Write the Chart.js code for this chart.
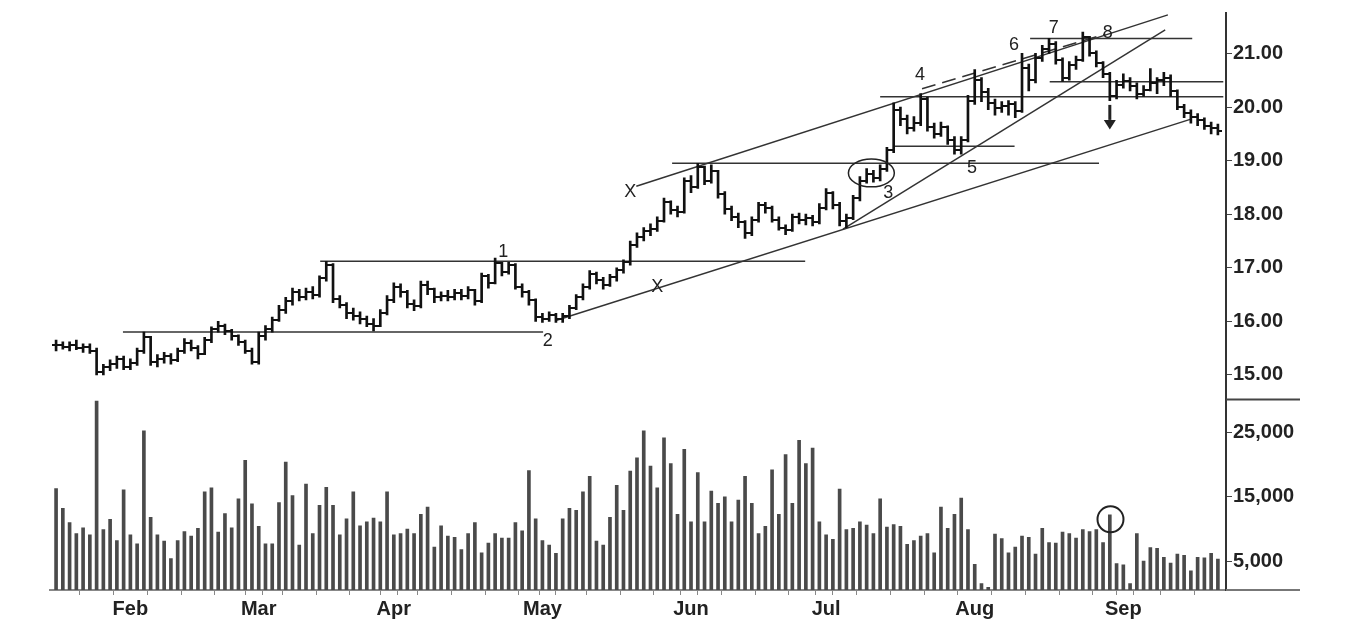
<!DOCTYPE html>
<html>
<head>
<meta charset="utf-8">
<script src="https://cdn.jsdelivr.net/npm/chart.js@4.4.1/dist/chart.umd.min.js"></script>
<style>html,body{margin:0;padding:0;background:#fff}</style>
</head>
<body>
<canvas id="chart" width="1348" height="626"></canvas>
<script>
// daily bars, mid-Jan to mid-Sep (index 0..172)
const openP = [15.55,15.55,15.52,15.55,15.50,15.52,15.45,15.05,15.15,15.20,15.30,15.15,15.22,15.45,15.70,15.25,15.30,15.35,15.28,15.45,
  15.60,15.50,15.40,15.65,15.85,15.92,15.82,15.72,15.62,15.45,15.25,15.72,15.85,16.02,16.22,16.38,16.55,16.45,16.55,16.50,
  16.80,17.05,16.42,16.30,16.15,16.10,16.05,15.95,15.92,16.15,16.40,16.65,16.55,16.32,16.28,16.68,16.60,16.45,16.48,16.45,
  16.52,16.48,16.58,16.38,16.85,16.72,17.08,16.92,17.05,16.65,16.55,16.40,16.08,16.05,16.12,16.05,16.10,16.25,16.45,16.65,
  16.88,16.78,16.68,16.82,16.95,17.10,17.42,17.58,17.68,17.72,17.88,18.22,18.08,18.05,18.62,18.50,18.88,18.62,18.80,18.38,
  18.10,17.95,17.85,17.65,17.90,18.18,18.12,17.90,17.75,17.70,17.95,17.90,17.92,17.85,18.12,18.40,18.18,17.88,17.92,18.30,
  18.62,18.75,18.68,18.85,19.20,19.95,19.78,19.60,19.70,20.15,19.62,19.50,19.62,19.38,19.20,19.38,20.12,20.50,20.28,20.08,
  19.98,20.02,20.05,19.92,20.72,20.50,20.92,21.08,21.18,20.88,20.55,20.78,20.88,21.30,21.00,20.82,20.62,20.20,20.42,20.48,
  20.40,20.25,20.32,20.45,20.50,20.55,20.30,20.00,19.88,19.82,19.75,19.65,19.60];
const highP = [15.65,15.62,15.62,15.65,15.58,15.58,15.50,15.20,15.28,15.35,15.35,15.30,15.50,15.80,15.72,15.38,15.42,15.40,15.50,15.68,
  15.65,15.55,15.70,15.90,16.00,15.95,15.85,15.75,15.65,15.50,15.80,15.92,16.08,16.30,16.45,16.62,16.60,16.62,16.65,16.85,
  17.12,17.08,16.48,16.35,16.25,16.18,16.10,16.05,16.22,16.48,16.72,16.70,16.58,16.40,16.75,16.75,16.62,16.55,16.58,16.60,
  16.60,16.65,16.60,16.90,16.88,17.18,17.10,17.10,17.08,16.70,16.58,16.42,16.15,16.18,16.15,16.15,16.30,16.50,16.70,16.95,
  16.92,16.82,16.88,17.00,17.15,17.50,17.65,17.75,17.82,17.95,18.30,18.25,18.15,18.68,18.72,18.95,18.90,18.92,18.82,18.42,
  18.15,18.02,17.88,17.95,18.22,18.22,18.15,17.95,17.80,18.00,18.02,18.00,17.98,18.20,18.48,18.42,18.22,18.00,18.35,18.70,
  18.85,18.82,18.92,19.25,20.08,20.00,19.85,19.82,20.25,20.18,19.70,19.72,19.65,19.45,19.45,20.22,20.70,20.55,20.35,20.15,
  20.10,20.12,20.10,21.00,20.80,21.00,21.15,21.28,21.22,20.92,20.85,20.95,21.40,21.32,21.05,20.85,20.65,20.50,20.62,20.55,
  20.45,20.40,20.72,20.55,20.65,20.60,20.32,20.05,19.95,19.88,19.80,19.72,19.68];
const lowP = [15.45,15.48,15.45,15.47,15.42,15.40,15.00,15.00,15.08,15.12,15.10,15.10,15.18,15.40,15.18,15.15,15.22,15.20,15.25,15.40,
  15.45,15.30,15.38,15.60,15.80,15.75,15.65,15.55,15.40,15.20,15.20,15.65,15.80,16.00,16.15,16.30,16.38,16.40,16.42,16.45,
  16.75,16.35,16.25,16.05,16.02,15.95,15.90,15.82,15.90,16.12,16.35,16.45,16.25,16.20,16.25,16.50,16.35,16.38,16.38,16.40,
  16.40,16.42,16.30,16.35,16.62,16.70,16.85,16.88,16.60,16.45,16.30,16.00,15.98,16.00,15.98,15.98,16.05,16.22,16.40,16.60,
  16.70,16.60,16.65,16.75,16.90,17.05,17.38,17.50,17.60,17.68,17.85,18.00,17.95,18.02,18.40,18.48,18.55,18.58,18.30,18.00,
  17.88,17.75,17.55,17.60,17.85,18.02,17.85,17.70,17.62,17.68,17.82,17.80,17.78,17.82,18.08,18.10,17.78,17.75,17.90,18.25,
  18.58,18.60,18.62,18.80,19.15,19.65,19.50,19.55,19.65,19.55,19.42,19.45,19.30,19.12,19.12,19.35,20.05,20.10,19.95,19.85,
  19.90,19.85,19.80,19.90,20.30,20.45,20.85,21.00,20.80,20.48,20.50,20.70,20.85,20.95,20.75,20.55,20.12,20.15,20.35,20.30,
  20.15,20.20,20.30,20.25,20.40,20.20,19.95,19.80,19.70,19.65,19.58,19.50,19.48];
const closeP = [15.55,15.52,15.55,15.50,15.52,15.45,15.05,15.15,15.20,15.30,15.15,15.22,15.45,15.70,15.25,15.30,15.35,15.28,15.45,15.60,
  15.50,15.40,15.65,15.85,15.92,15.82,15.72,15.62,15.45,15.25,15.72,15.85,16.02,16.22,16.38,16.55,16.45,16.55,16.50,16.80,
  17.05,16.42,16.30,16.15,16.10,16.05,15.95,15.92,16.15,16.40,16.65,16.55,16.32,16.28,16.68,16.60,16.45,16.48,16.45,16.52,
  16.48,16.58,16.38,16.85,16.72,17.08,16.92,17.05,16.65,16.55,16.40,16.08,16.05,16.12,16.05,16.10,16.25,16.45,16.65,16.88,
  16.78,16.68,16.82,16.95,17.10,17.42,17.58,17.68,17.72,17.88,18.22,18.08,18.05,18.62,18.50,18.88,18.62,18.80,18.38,18.10,
  17.95,17.85,17.65,17.90,18.18,18.12,17.90,17.75,17.70,17.95,17.90,17.92,17.85,18.12,18.40,18.18,17.88,17.92,18.30,18.62,
  18.75,18.68,18.85,19.20,19.95,19.78,19.60,19.70,20.15,19.62,19.50,19.62,19.38,19.20,19.38,20.12,20.50,20.28,20.08,19.98,
  20.02,20.05,19.92,20.72,20.50,20.92,21.08,21.18,20.88,20.55,20.78,20.88,21.30,21.00,20.82,20.62,20.20,20.42,20.48,20.40,
  20.25,20.32,20.45,20.50,20.55,20.30,20.00,19.88,19.82,19.75,19.65,19.60,19.55];
const volume = [16300,13200,11000,9300,10200,9100,29900,9900,11500,8200,16100,9100,7700,25300,11800,9100,8100,5400,8200,9600,
  8900,10100,15800,16400,9500,12400,10200,14700,20700,13900,10400,7700,7700,14100,20400,15200,7500,17000,9300,13700,
  16500,13700,9100,11600,15800,10500,11100,11700,11100,15800,9100,9300,10000,9300,12300,13400,7200,10500,8900,8700,
  6800,9300,11000,6300,7800,9300,8600,8600,11000,9700,19100,11600,8200,7500,6200,11600,13200,12900,15800,18200,
  8100,7500,11800,16800,12900,19000,21100,25300,19800,16400,24200,20200,12300,22400,11100,18800,11100,15900,14000,15000,
  11100,14500,18200,14000,9300,10400,19200,12300,21600,14000,23800,20200,22600,11100,9100,8400,16200,9900,10100,11100,
  10600,9300,14700,10300,10700,10400,7600,8200,8900,9300,6300,13400,10100,12300,14800,9900,4500,1500,900,9200,
  8500,6300,7200,8900,8700,6100,10100,7900,7800,9500,9300,8600,9900,9600,9900,7900,12200,4600,4400,1500,
  9300,5000,7100,7000,5600,4700,6100,5900,3500,5600,5500,6200,5300];

const monthLabels = ['Feb','Mar','Apr','May','Jun','Jul','Aug','Sep'];
const monthStart = [11,30,50,72,94,114,136,158];
const priceTicks = [15,16,17,18,19,20,21];
const volumeTicks = [5000,10000,15000,20000,25000];
const volumeLabelled = [5000,15000,25000];

// drawn lines: [bar1, price1, bar2, price2]
const trendLines = [
  [9.9,15.80,72.1,15.80],
  [39.1,17.12,110.9,17.12],
  [74.1,16.02,167.9,19.77],
  [91.2,18.95,154.4,18.95],
  [85.9,18.52,164.6,21.72],
  [116.5,17.72,164.2,21.44],
  [122.0,20.19,172.8,20.19],
  [124.2,19.27,141.9,19.27],
  [144.2,21.28,168.2,21.28],
  [147.1,20.47,172.8,20.47]
];
const dashedLine = [128.2,20.34,155.3,21.36];

const noteText  = ['1','2','X','X','3','4','5','6','7','8'];
const noteBar   = [66.2,72.8,85.0,89.0,123.2,127.9,135.6,141.8,147.7,155.7];
const notePrice = [17.30,15.63,18.42,16.64,18.39,20.60,18.87,21.15,21.48,21.39];

function tickImg(side) {
  const c = document.createElement('canvas');
  c.width = 9; c.height = 2;
  const g = c.getContext('2d');
  g.fillStyle = '#111';
  g.fillRect(side < 0 ? 0 : 5, 0, 4, 2);
  return c;
}

const lineSets = trendLines.map(l => ({
  type: 'line', yAxisID: 'y',
  data: [{x: l[0], y: l[1]}, {x: l[2], y: l[3]}],
  borderColor: '#333', borderWidth: 1.5, pointRadius: 0, fill: false
}));
lineSets.push({
  type: 'line', yAxisID: 'y',
  data: [{x: dashedLine[0], y: dashedLine[1]}, {x: dashedLine[2], y: dashedLine[3]}],
  borderColor: '#333', borderWidth: 1.5, borderDash: [14, 7], pointRadius: 0, fill: false
});

const marks = {
  id: 'marks',
  afterDatasetsDraw(chart) {
    const {ctx, chartArea, scales: {x, y, yv}} = chart;
    ctx.save();
    ctx.fillStyle = '#222';
    ctx.font = '18px "Liberation Sans", Arial, sans-serif';
    ctx.textAlign = 'center';
    ctx.textBaseline = 'middle';
    noteText.forEach((t, i) => ctx.fillText(t, x.getPixelForValue(noteBar[i]), y.getPixelForValue(notePrice[i])));

    ctx.strokeStyle = '#222';
    ctx.lineWidth = 1.5;
    // ellipse round the small cluster before the breakout
    const ex = x.getPixelForValue(120.7), ey = y.getPixelForValue(18.77);
    ctx.beginPath();
    ctx.ellipse(ex, ey, x.getPixelForValue(124.1) - ex, ey - y.getPixelForValue(19.03), 0, 0, Math.PI * 2);
    ctx.stroke();
    // circle on the volume spike
    ctx.lineWidth = 2;
    ctx.beginPath();
    ctx.arc(x.getPixelForValue(156.1), yv.getPixelForValue(11500), 13, 0, Math.PI * 2);
    ctx.stroke();
    // down arrow
    const ax = x.getPixelForValue(156);
    const a1 = y.getPixelForValue(20.04), a2 = y.getPixelForValue(19.76), a3 = y.getPixelForValue(19.58);
    ctx.lineWidth = 3;
    ctx.beginPath(); ctx.moveTo(ax, a1); ctx.lineTo(ax, a2); ctx.stroke();
    ctx.beginPath(); ctx.moveTo(ax - 6, a2); ctx.lineTo(ax + 6, a2); ctx.lineTo(ax, a3); ctx.closePath(); ctx.fill();

    // separator and base line running out under the axis labels
    ctx.strokeStyle = '#444';
    ctx.lineWidth = 2;
    ctx.beginPath();
    ctx.moveTo(chartArea.right, y.bottom + 1); ctx.lineTo(1300, y.bottom + 1);
    ctx.stroke();
    ctx.strokeStyle = '#777';
    ctx.beginPath();
    ctx.moveTo(chartArea.right, chartArea.bottom); ctx.lineTo(1300, chartArea.bottom);
    ctx.stroke();
    ctx.restore();
  }
};

const tickFont = {family: '"Liberation Sans", Arial, sans-serif', size: 20, weight: 'bold'};

new Chart(document.getElementById('chart'), {
  data: {
    datasets: [
      {
        type: 'bar', yAxisID: 'yv', grouped: false,
        data: volume.map((v, i) => ({x: i, y: v})),
        backgroundColor: '#4a4a4a', barThickness: 3
      },
      {
        type: 'bar', yAxisID: 'y', grouped: false,
        data: highP.map((h, i) => ({x: i, y: [lowP[i], h]})),
        backgroundColor: '#111', barThickness: 2
      },
      {
        type: 'line', yAxisID: 'y', showLine: false,
        data: openP.map((o, i) => ({x: i, y: o})),
        pointStyle: tickImg(-1), pointRadius: 3
      },
      {
        type: 'line', yAxisID: 'y', showLine: false,
        data: closeP.map((c, i) => ({x: i, y: c})),
        pointStyle: tickImg(1), pointRadius: 3
      },
      ...lineSets
    ]
  },
  options: {
    responsive: false,
    animation: false,
    events: [],
    layout: {padding: {left: 50, top: 5, right: 0, bottom: 0}},
    plugins: {legend: {display: false}, tooltip: {enabled: false}},
    scales: {
      x: {
        type: 'linear', position: 'bottom', min: -0.9, max: 173.2, offset: false,
        afterBuildTicks: s => {
          const t = new Set(monthStart);
          for (let i = 1; i < 173; i += 5) t.add(i);
          s.ticks = [...t].sort((a, b) => a - b).map(v => ({value: v}));
        },
        afterFit: s => { s.height = 36; },
        ticks: {
          autoSkip: false, maxRotation: 0, color: '#222', font: tickFont, padding: 2,
          callback: v => { const k = monthStart.indexOf(v); return k >= 0 ? monthLabels[k] : ''; }
        },
        grid: {drawOnChartArea: false, tickLength: 5, color: '#888'},
        border: {color: '#888', width: 2}
      },
      y: {
        type: 'linear', position: 'right', stack: 'panes', stackWeight: 2.015,
        min: 14.558, max: 21.755,
        afterBuildTicks: s => { s.ticks = priceTicks.map(v => ({value: v})); },
        afterFit: s => { s.width = 122; },
        ticks: {color: '#222', font: tickFont, padding: 1, callback: v => v.toFixed(2)},
        grid: {drawOnChartArea: false, tickLength: 6, color: '#444'},
        border: {color: '#333', width: 2}
      },
      yv: {
        type: 'linear', position: 'right', stack: 'panes', stackWeight: 1,
        min: 500, max: 30300,
        afterBuildTicks: s => { s.ticks = volumeTicks.map(v => ({value: v})); },
        afterFit: s => { s.width = 122; },
        ticks: {
          color: '#222', font: tickFont, padding: 1,
          callback: v => volumeLabelled.includes(v) ? v.toLocaleString('en-US') : ''
        },
        grid: {drawOnChartArea: false, tickLength: 6, color: '#444'},
        border: {color: '#333', width: 2}
      }
    }
  },
  plugins: [marks]
});
</script>
</body>
</html>
